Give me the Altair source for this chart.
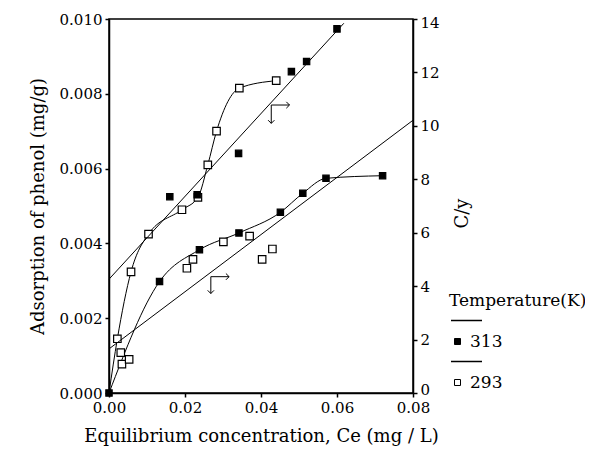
import altair as alt
import pandas as pd

# ---- data ----
# 313 K isotherm (left axis, filled squares)
iso313_x = [0.0, 0.0133, 0.0238, 0.0342, 0.0451, 0.0510, 0.0571, 0.0720]
iso313_y = [0.0, 0.00298, 0.00383, 0.00428, 0.00483, 0.00534, 0.00574, 0.00581]
# 293 K isotherm (left axis, open squares)
iso293_x = [0.0, 0.0022, 0.0058, 0.0104, 0.0192, 0.0234, 0.0260, 0.0283, 0.0343, 0.0440]
iso293_y = [0.0, 0.00145, 0.00324, 0.00425, 0.0049, 0.00523, 0.0061, 0.0070, 0.00815, 0.00835]
# C/y 313 K (right axis, filled squares) + fitted line
cy313_x = [0.0160, 0.0232, 0.0341, 0.0480, 0.0520, 0.0600]
cy313_y = [7.35, 7.42, 8.97, 12.03, 12.41, 13.63]
cy313_fit_x = [0.0, 0.0618]
cy313_fit_y = [4.26, 13.84]
# C/y 293 K (right axis, open squares) + fitted line
cy293_x = [0.0031, 0.0034, 0.0053, 0.0205, 0.0221, 0.0301, 0.0370, 0.0403, 0.0430]
cy293_y = [1.51, 1.08, 1.26, 4.67, 5.0, 5.66, 5.87, 5.0, 5.39]
cy293_fit_x = [0.0, 0.08]
cy293_fit_y = [1.65, 10.21]
# axis indicator arrows (left-axis data units)
arrow_x = [0.0427, 0.0268]
arrow_y = [0.0077, 0.00311]
arrow_x_end = [0.0475, 0.0316]
arrow_y_end = [0.00721, 0.00266]

x_ticks = [0.0, 0.02, 0.04, 0.06, 0.08]
yl_ticks = [0.0, 0.002, 0.004, 0.006, 0.008, 0.010]
yr_ticks = [0, 2, 4, 6, 8, 10, 12, 14]

FONT = "DejaVu Serif"

iso_df = pd.concat([
    pd.DataFrame({"x": iso313_x, "y": iso313_y, "temp": "313"}),
    pd.DataFrame({"x": iso293_x, "y": iso293_y, "temp": "293"}),
])
iso_pts = iso_df[iso_df["x"] > 0]
iso_pts = pd.concat([iso_pts[iso_pts.temp == "293"], iso_pts[iso_pts.temp == "313"], iso_df.iloc[[0]]])

cy_df = pd.concat([
    pd.DataFrame({"x": cy293_x, "y": cy293_y, "temp": "293"}),
    pd.DataFrame({"x": cy313_x, "y": cy313_y, "temp": "313"}),
])
fit_df = pd.concat([
    pd.DataFrame({"x": cy313_fit_x, "y": cy313_fit_y, "temp": "313"}),
    pd.DataFrame({"x": cy293_fit_x, "y": cy293_fit_y, "temp": "293"}),
])
arrow_df = pd.DataFrame({"x": arrow_x, "y": arrow_y, "xe": arrow_x_end, "ye": arrow_y_end})

xscale = alt.Scale(domain=[0, 0.08], nice=False, zero=False)
xaxis = alt.Axis(values=x_ticks, format=".2f", title="Equilibrium concentration, Ce (mg / L)",
                 titlePadding=12, labelFlush=False)
yl_scale = alt.Scale(domain=[0, 0.010], nice=False)
yl_axis = alt.Axis(values=yl_ticks, format=".3f", title="Adsorption of phenol (mg/g)",
                   orient="left", titlePadding=12, labelFlush=False)
yr_scale = alt.Scale(domain=[0, 14], nice=False)
yr_axis = alt.Axis(values=yr_ticks, format="d", title="C/y", orient="right",
                   titleAngle=270, titlePadding=32, titleY=194,
                   labelFlush=True, labelFlushOffset=4)

fill_enc = alt.Fill(
    "temp:N",
    scale=alt.Scale(domain=["313", "293"], range=["black", "white"]),
    legend=alt.Legend(
        title="Temperature(K)", orient="none", legendX=340, legendY=274,
        symbolType="square", symbolStrokeColor="black", symbolStrokeWidth=1,
        symbolSize=36, rowPadding=23, titlePadding=23,
        labelFont=FONT, labelFontSize=17, titleFont=FONT, titleFontSize=17,
        titleFontWeight="normal", labelColor="black", titleColor="black",
    ),
)
size_enc = alt.condition(alt.datum.temp == "313", alt.value(40), alt.value(56))

X = alt.X("x:Q", scale=xscale, axis=xaxis)

left_lines = alt.Chart(iso_df).mark_line(interpolate="monotone", color="black", strokeWidth=1).encode(
    x=X, y=alt.Y("y:Q", scale=yl_scale, axis=yl_axis), detail="temp:N", order="x:Q")
left_pts = alt.Chart(iso_pts).mark_point(shape="square", filled=True, stroke="black",
                                         strokeWidth=1.2, opacity=1).encode(
    x=X, y=alt.Y("y:Q", scale=yl_scale, axis=yl_axis), fill=fill_enc, size=size_enc)

arrow_v = alt.Chart(arrow_df).mark_rule(color="black", strokeWidth=1).encode(
    x=X, y=alt.Y("y:Q", scale=yl_scale, axis=yl_axis), y2="ye:Q")
arrow_h = alt.Chart(arrow_df).mark_rule(color="black", strokeWidth=1).encode(
    x=X, x2="xe:Q", y=alt.Y("y:Q", scale=yl_scale, axis=yl_axis))
head_down = alt.Chart(arrow_df).mark_point(shape="M-1,-1L0,0L1,-1", filled=False, size=40,
                                           color="black", strokeWidth=1, opacity=1).encode(
    x=X, y=alt.Y("ye:Q", scale=yl_scale, axis=yl_axis))
head_right = alt.Chart(arrow_df).mark_point(shape="M-1,-1L0,0L-1,1", filled=False, size=40,
                                            color="black", strokeWidth=1, opacity=1).encode(
    x=alt.X("xe:Q", scale=xscale, axis=xaxis), y=alt.Y("y:Q", scale=yl_scale, axis=yl_axis))

blank = pd.DataFrame({"a": [0]})
leg_line1 = alt.Chart(blank).mark_rule(color="black", strokeWidth=1.5).encode(
    x=alt.value(342), x2=alt.value(373), y=alt.value(301.5))
leg_line2 = alt.Chart(blank).mark_rule(color="black", strokeWidth=1.5).encode(
    x=alt.value(342), x2=alt.value(373), y=alt.value(342.5))

left = alt.layer(left_lines, arrow_v, arrow_h, head_down, head_right, left_pts, leg_line1, leg_line2)

right_lines = alt.Chart(fit_df).mark_line(color="black", strokeWidth=1).encode(
    x=X, y=alt.Y("y:Q", scale=yr_scale, axis=yr_axis), detail="temp:N")
right_pts = alt.Chart(cy_df).mark_point(shape="square", filled=True, stroke="black",
                                        strokeWidth=1.2, opacity=1).encode(
    x=X, y=alt.Y("y:Q", scale=yr_scale, axis=yr_axis), fill=fill_enc, size=size_enc)
right = alt.layer(right_lines, right_pts)

chart = alt.layer(left, right).resolve_scale(y="independent").properties(
    width=304, height=374,
    autosize=alt.AutoSizeParams(type="none"),
    padding={"left": 101, "top": 11, "right": 172, "bottom": 62},
).configure_view(stroke="black", strokeWidth=1.5).configure_axis(
    grid=False, domainColor="black", domainWidth=1.5, tickColor="black", tickSize=4,
    tickWidth=1.5, labelFont=FONT, labelFontSize=15, labelColor="black", labelPadding=3,
    titleFont=FONT, titleFontSize=18, titleFontWeight="normal", titleColor="black",
    labelOverlap=False,
)

chart.save("out.html", embed_options={"renderer": "svg", "actions": False})
